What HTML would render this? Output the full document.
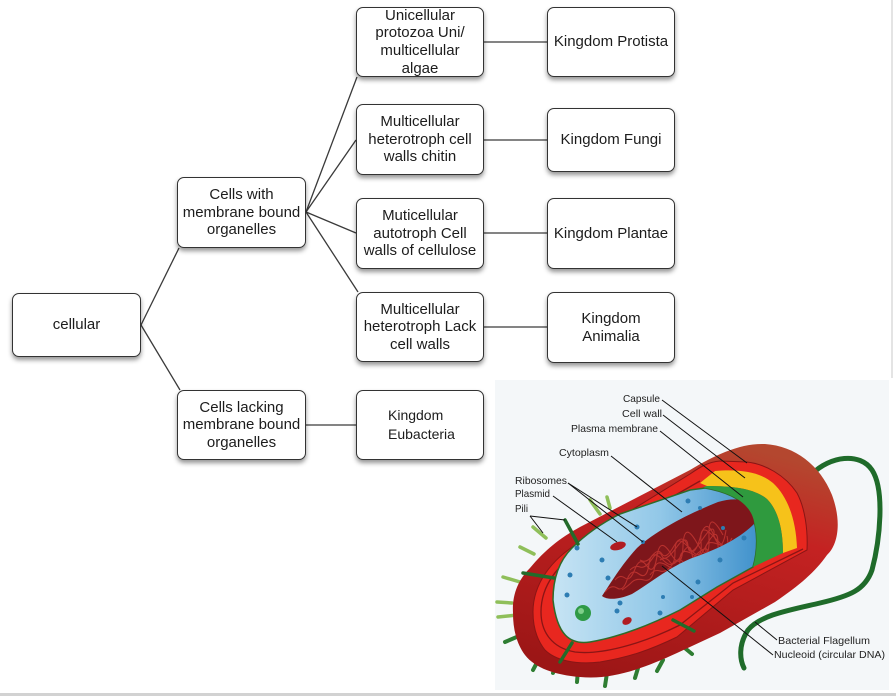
<!DOCTYPE html>
<html><head><meta charset="utf-8"><style>
html,body{margin:0;padding:0;background:#fff;}
#wrap{position:relative;width:896px;height:696px;overflow:hidden;background:#fff;}
svg{position:absolute;left:0;top:0;}
.box{position:absolute;box-sizing:border-box;border:1.5px solid #333;border-radius:7px;background:#fff;box-shadow:0 3px 5px rgba(0,0,0,.42);display:flex;align-items:center;justify-content:center;text-align:center;font-family:"Liberation Sans",Arial,sans-serif;font-size:15px;line-height:17.6px;color:#1c1c1c;}
</style></head><body><div id="wrap">
<svg width="896" height="696" viewBox="0 0 896 696">
<defs>
<linearGradient id="capg" gradientUnits="userSpaceOnUse" x1="720" y1="440" x2="650" y2="690">
<stop offset="0" stop-color="#b4472f"/><stop offset="0.3" stop-color="#c42222"/><stop offset="1" stop-color="#9c1616"/>
</linearGradient>
<linearGradient id="blueg" gradientUnits="userSpaceOnUse" x1="560" y1="560" x2="760" y2="560">
<stop offset="0" stop-color="#c3e2f3"/><stop offset="0.5" stop-color="#92c8e8"/><stop offset="1" stop-color="#3e90cb"/>
</linearGradient>
<clipPath id="nucclip"><path d="M602,596 C610,584 622,564 637,548 C657,530 688,514 718,502 C735,497 748,499 753,508 L754,524 C742,536 722,548 692,558 C668,568 652,582 632,594 C618,600 607,600 602,596 Z"/></clipPath>
</defs>
<rect x="891" y="0" width="2" height="378" fill="#e4e4e4"/>
<rect x="0" y="693" width="896" height="3" fill="#d2d2d2"/>
<g stroke="#3a3a3a" stroke-width="1.3" fill="none">
<line x1="141" y1="325" x2="179" y2="248"/>
<line x1="141" y1="325" x2="180" y2="390"/>
<line x1="306" y1="212" x2="357" y2="77"/>
<line x1="306" y1="212" x2="356" y2="140"/>
<line x1="306" y1="212" x2="356" y2="233"/>
<line x1="306" y1="212" x2="358" y2="292"/>
<line x1="484" y1="42" x2="547" y2="42"/>
<line x1="484" y1="140" x2="547" y2="140"/>
<line x1="484" y1="233" x2="547" y2="233"/>
<line x1="484" y1="327" x2="547" y2="327"/>
<line x1="306" y1="425" x2="356" y2="425"/>
</g>
<rect x="495" y="380" width="394" height="310" fill="#f4f7f9"/>
<path d="M812,474 C830,456 860,452 872,470 C885,490 880,540 872,570 C865,590 850,596 820,603 C790,610 760,615 748,630 C738,645 740,660 744,668" stroke="#1f6b2a" stroke-width="5" fill="none" stroke-linecap="round"/>
<g stroke-linecap="round" fill="none">
<g stroke="#8fbf5a" stroke-width="3.5">
<line x1="590" y1="500" x2="600" y2="514"/>
<line x1="607" y1="497" x2="610" y2="508"/>
<line x1="533" y1="527" x2="546" y2="538"/>
<line x1="520" y1="547" x2="534" y2="554"/>
<line x1="503" y1="577" x2="520" y2="582"/>
<line x1="497" y1="602" x2="512" y2="603"/>
<line x1="498" y1="617" x2="517" y2="615"/>
</g>
<g stroke="#2e7d32" stroke-width="4">
<line x1="505" y1="642" x2="533" y2="630"/>
<line x1="533" y1="670" x2="540" y2="657"/>
<line x1="553" y1="673" x2="556" y2="664"/>
<line x1="577" y1="682" x2="578" y2="670"/>
<line x1="605" y1="686" x2="607" y2="673"/>
<line x1="635" y1="678" x2="638" y2="668"/>
<line x1="657" y1="671" x2="663" y2="660"/>
<line x1="680" y1="644" x2="692" y2="654"/>
</g>
</g>
<path d="M513,613 C512,595 518,580 530,568 C545,550 560,538 580,527 L690,470 C715,455 740,443 765,444 C795,446 820,465 832,495 C842,522 838,545 827,555 C815,572 800,585 775,602 L720,633 L677,653 C640,670 610,680 580,677 C555,675 535,668 525,655 C516,643 513,628 513,613 Z" fill="url(#capg)"/>
<path d="M533,612 C533,585 550,560 580,542 L690,474 C700,467 708,462 720,461 L747,462 C765,464 785,475 797,493 C805,508 808,530 807,550 L733,590 L677,637 C650,650 630,657 600,662 C575,665 555,660 545,650 C537,640 533,627 533,612 Z" fill="#e8271f" stroke="#8a1515" stroke-width="1"/>
<path d="M700,481 L588,545 C558,563 541,585 541,612 C541,632 552,648 575,652 C600,655 640,645 680,625 L733,583 L803,549" fill="none" stroke="#8b1515" stroke-width="1.3"/>
<path d="M700,483 L715,471 C740,469 760,472 773,483 C788,497 796,520 797,548 L783,553 C783,532 779,511 767,499 C755,489 735,486 707,486 Z" fill="#f6c21a"/>
<path d="M553,600 C553,580 558,562 572,548 C585,535 600,524 620,514 L690,490 L705,488 C728,492 745,500 752,515 C758,530 758,550 753,567 L717,587 L680,610 C650,625 620,637 590,642 C570,645 557,635 553,600 Z" fill="url(#blueg)" stroke="#2f6b2a" stroke-width="1.5"/>
<path d="M602,596 C610,584 622,564 637,548 C657,530 688,514 718,502 C735,497 748,499 753,508 L754,524 C742,536 722,548 692,558 C668,568 652,582 632,594 C618,600 607,600 602,596 Z" fill="#7e161b"/>
<g clip-path="url(#nucclip)" stroke="#b8312e" stroke-width="1.1" fill="none">
<path d="M605,592 q6,-8 12,-4 t10,-8 t12,-6 t10,-10 t14,-4 t12,-8 t14,-4 t12,-6 t14,-4 t12,-2"/>
<path d="M615,580 q5,-6 10,-2 t10,-9 t12,-3 t10,-10 t14,-2 t12,-8 t14,-3 t12,-6 t14,-2"/>
<path d="M622,590 q6,-4 10,-8 t12,-2 t10,-10 t14,-4 t12,-6 t14,-5 t12,-4 t14,-6 t10,-2"/>
<path d="M640,560 q6,4 12,-4 t10,-2 t12,-8 t14,0 t12,-8 t14,-2 t12,-6"/>
<path d="M650,575 q4,-6 10,-4 t12,-6 t10,-4 t14,-6 t12,-4 t14,-4"/>
<path d="M630,570 q5,-5 10,-3 t12,-8 t10,-3 t14,-8 t12,-2 t14,-6 t12,-5"/>
<path d="M660,560 q6,-4 10,2 t12,-8 t10,0 t14,-8 t12,-2 t14,-6"/>
</g>
<path d="M703,487 L707,486 C735,486 755,489 767,499 C779,511 783,532 783,553 L753,567 C758,550 758,530 752,515 C745,500 728,492 705,488 Z" fill="#2f9a3e"/>
<g fill="#2d7db3">
<circle cx="688" cy="501" r="2.5"/><circle cx="700" cy="508" r="2"/><circle cx="637" cy="527" r="2.5"/>
<circle cx="577" cy="548" r="2.5"/><circle cx="602" cy="560" r="2.5"/><circle cx="570" cy="575" r="2.5"/>
<circle cx="608" cy="578" r="2.5"/><circle cx="567" cy="595" r="2.5"/><circle cx="620" cy="603" r="2.5"/>
<circle cx="617" cy="611" r="2.5"/><circle cx="660" cy="613" r="2.5"/><circle cx="663" cy="597" r="2"/>
<circle cx="698" cy="582" r="2.5"/><circle cx="720" cy="560" r="2.5"/><circle cx="723" cy="528" r="2"/>
<circle cx="744" cy="538" r="2.5"/><circle cx="692" cy="597" r="2"/><circle cx="643" cy="542" r="2"/>
</g>
<circle cx="583" cy="613" r="8" fill="#2f9a46"/>
<circle cx="581" cy="611" r="3" fill="#7fcf8a"/>
<ellipse cx="618" cy="546" rx="8" ry="4" fill="#b01c22" transform="rotate(-15 618 546)"/>
<ellipse cx="627" cy="621" rx="5" ry="3.5" fill="#b01c22" transform="rotate(-30 627 621)"/>
<g stroke="#236b2a" stroke-width="3.5" stroke-linecap="round">
<line x1="565" y1="520" x2="578" y2="544"/>
<line x1="523" y1="573" x2="554" y2="578"/>
<line x1="560" y1="662" x2="572" y2="643"/>
<line x1="673" y1="620" x2="694" y2="631"/>
</g>
<g stroke="#111" stroke-width="1" fill="none">
<line x1="662" y1="400" x2="747" y2="463"/>
<line x1="663" y1="415" x2="745" y2="478"/>
<line x1="660" y1="431" x2="743" y2="497"/>
<line x1="611" y1="456" x2="682" y2="512"/>
<line x1="568" y1="483" x2="637" y2="527"/>
<line x1="568" y1="483" x2="643" y2="542"/>
<line x1="553" y1="496" x2="617" y2="542"/>
<line x1="530" y1="516" x2="543" y2="533"/>
<line x1="530" y1="516" x2="565" y2="520"/>
<line x1="777" y1="640" x2="755" y2="622"/>
<line x1="773" y1="655" x2="662" y2="566"/>
</g>
<g font-family="Liberation Sans, Arial, sans-serif" font-size="10.5" fill="#222">
<text x="623" y="402" textLength="37" lengthAdjust="spacingAndGlyphs">Capsule</text>
<text x="622" y="417" textLength="40" lengthAdjust="spacingAndGlyphs">Cell wall</text>
<text x="571" y="432" textLength="87" lengthAdjust="spacingAndGlyphs">Plasma membrane</text>
<text x="559" y="456" textLength="50" lengthAdjust="spacingAndGlyphs">Cytoplasm</text>
<text x="515" y="484" textLength="52" lengthAdjust="spacingAndGlyphs">Ribosomes</text>
<text x="515" y="497" textLength="35" lengthAdjust="spacingAndGlyphs">Plasmid</text>
<text x="515" y="512" textLength="13" lengthAdjust="spacingAndGlyphs">Pili</text>
<text x="778" y="644" textLength="92" lengthAdjust="spacingAndGlyphs">Bacterial Flagellum</text>
<text x="774" y="658" textLength="111" lengthAdjust="spacingAndGlyphs">Nucleoid (circular DNA)</text>
</g>
</svg>

<div class="box" style="left:12px;top:293px;width:129px;height:64px;">cellular</div>
<div class="box" style="left:177px;top:177px;width:129px;height:71px;">Cells with<br>membrane bound<br>organelles</div>
<div class="box" style="left:177px;top:390px;width:129px;height:70px;">Cells lacking<br>membrane bound<br>organelles</div>
<div class="box" style="left:356px;top:7px;width:128px;height:70px;">Unicellular<br>protozoa Uni/<br>multicellular<br>algae</div>
<div class="box" style="left:356px;top:104px;width:128px;height:71px;">Multicellular<br>heterotroph cell<br>walls chitin</div>
<div class="box" style="left:356px;top:198px;width:128px;height:71px;">Muticellular<br>autotroph Cell<br>walls of cellulose</div>
<div class="box" style="left:356px;top:292px;width:128px;height:70px;">Multicellular<br>heterotroph Lack<br>cell walls</div>
<div class="box" style="left:356px;top:390px;width:128px;height:70px;justify-content:flex-start;text-align:left;padding-left:31px;font-size:14px;line-height:19px;">Kingdom<br>Eubacteria</div>
<div class="box" style="left:547px;top:7px;width:128px;height:70px;">Kingdom Protista</div>
<div class="box" style="left:547px;top:108px;width:128px;height:64px;">Kingdom Fungi</div>
<div class="box" style="left:547px;top:198px;width:128px;height:71px;">Kingdom Plantae</div>
<div class="box" style="left:547px;top:292px;width:128px;height:71px;">Kingdom<br>Animalia</div>
</div></body></html>
